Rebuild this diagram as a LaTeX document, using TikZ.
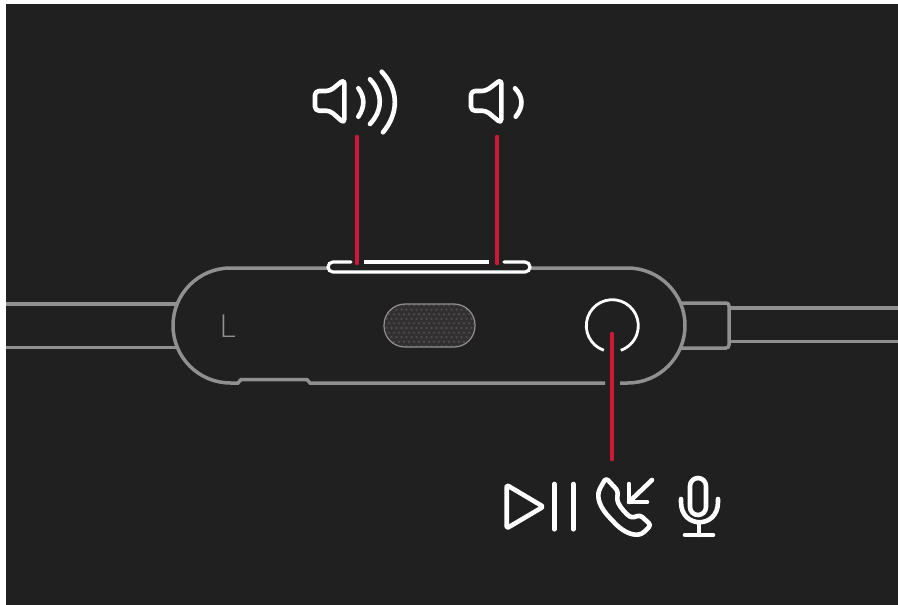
\documentclass[tikz,border=0pt]{standalone}
\usepackage{fontspec}
\setmainfont{Lato}
\newfontfamily\thinfont{Lato Light}
\usetikzlibrary{calc}
\definecolor{panelDark}{RGB}{33, 32, 32}
\definecolor{shellGray}{RGB}{145, 144, 144}
\definecolor{leadRed}{RGB}{205, 24, 56}
\definecolor{meshFill}{RGB}{50, 48, 48}
\definecolor{meshDot}{RGB}{78, 76, 76}

\begin{document}
\begin{tikzpicture}[
    x=1pt, y=-1pt,
    shell/.style={draw=shellGray, line width=3.5pt},
    icon/.style={draw=white, line width=4.6pt, line cap=round, line join=round},
    lead/.style={draw=leadRed, line width=4.6pt, line cap=round},
  ]
    \useasboundingbox (0,0) rectangle (898,605);
    \fill[white] (0,0) rectangle (898,605);
    \fill[panelDark] (6,4) rectangle (898,605);

    % cables
    \draw[shell] (6,304) -- (177,304) (6,347.5) -- (177,347.5);
    \draw[shell] (729,308) -- (898,308) (729,341.5) -- (898,341.5);
    \draw[shell, rounded corners=3pt] (681,303) -- (729,303) -- (729,348) -- (681,348);

    % remote body
    \draw[shell] (328,268) -- (230.5,268) arc (90:270:57.5pt)
      -- (238,383) -- (241,379.5) -- (307,379.5) -- (310,383) -- (605,383);
    \draw[shell] (530,268) -- (627.5,268) arc (90:-90:57.5pt) -- (620,383);

    % L mark
    \node[text=shellGray, font=\thinfont\fontsize{32}{32}\selectfont] (sideL) at (227.5,326.5) {L};

    % mic mesh
    \begin{scope}
      \clip[rounded corners=21pt] (384,304) rectangle (475,347);
      \fill[meshFill] (384,304) rectangle (475,347);
      \foreach \i in {0,...,9} {
        \foreach \j in {0,...,19} {
          \fill[meshDot] ({384+\j*5+mod(\i,2)*2.5},{305+\i*4.6}) circle (1.3pt);
        }
      }
    \end{scope}
    \draw[draw=shellGray, line width=1.2pt, rounded corners=21pt] (384,304) rectangle (475,347);

    % volume rocker
    \draw[draw=white, line width=3.2pt, line cap=round]
      (351,262) -- (333,262) arc (90:270:5pt) -- (525,272) arc (-90:90:5pt) -- (504,262);
    \draw[draw=white, line width=3.2pt] (364,262) -- (489,262);

    % centre button
    \coordinate (btnCentre) at (612.3,325.7);
    \draw[draw=white, line width=2.8pt] ($(btnCentre)+(-109:26pt)$) arc (-109:-431:26pt);

    % leader lines
    \coordinate (volUpTop) at (357,137);
    \coordinate (volUpEnd) at (357,263);
    \coordinate (volDownTop) at (497,137);
    \coordinate (volDownEnd) at (497,263);
    \coordinate (btnTop) at (612,334);
    \coordinate (btnEnd) at (612,459);
    \draw[lead] (volUpTop) -- (volUpEnd);
    \draw[lead] (volDownTop) -- (volDownEnd);
    \draw[lead] (btnTop) -- (btnEnd);

    % volume up icon
    \draw[icon, rounded corners=4pt] (315,91) -- (330,91) -- (344.3,79.3) -- (344.3,123.3)
      -- (330,110.7) -- (315,110.7) -- cycle;
    \draw[icon] (358.3,88.3) .. controls (365,97) and (365,107) .. (358.3,116.7);
    \draw[icon] (370,79.3) .. controls (383,93) and (383,110) .. (370,124);
    \draw[icon] (381.7,71.7) .. controls (399,90) and (399,113) .. (383,132.3);

    % volume down icon
    \draw[icon, rounded corners=4pt] (471,91) -- (486,91) -- (501.3,79.3) -- (501.3,123.3)
      -- (486,110.7) -- (471,110.7) -- cycle;
    \draw[icon] (515,88.3) .. controls (523.5,97) and (523.5,107) .. (515.7,116.7);

    % play pause
    \draw[icon, rounded corners=2pt] (506.7,485) -- (543.3,506.7) -- (506.7,528.3) -- cycle;
    \draw[icon] (554.3,484) -- (554.3,529.3);
    \draw[icon] (573.3,484) -- (573.3,529.3);

    % phone
    \draw[icon, rounded corners=3pt] (599,490) .. controls (597,502) and (604,512) .. (612,520)
      .. controls (620,529) and (630,536) .. (642,534) -- (651,525) -- (640,515) -- (632,518)
      .. controls (626,514) and (620,507) .. (617,500) -- (618,491) -- (606,478) -- cycle;
    \draw[icon] (652,480) -- (629,502);
    \draw[icon] (629,484) -- (629,502) -- (647,502);

    % mic
    \draw[icon, rounded corners=8pt] (690,478) rectangle (706,515);
    \draw[icon] (681,499) -- (681,502) .. controls (681,529) and (718,529) .. (718,502) -- (718,499);
    \draw[icon] (699,523) -- (699,535);
    \draw[icon] (685,535) -- (713,535);
  \end{tikzpicture}
\end{document}
